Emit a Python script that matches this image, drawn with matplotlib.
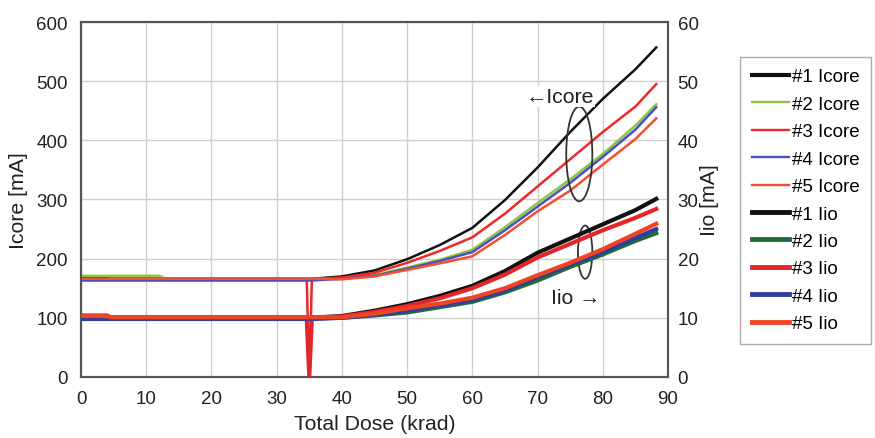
import matplotlib
matplotlib.use("Agg")
import matplotlib.pyplot as plt
from matplotlib.patches import Ellipse
from matplotlib.lines import Line2D

plt.rcParams['font.family'] = ['Liberation Sans', 'DejaVu Sans']

# ---- data ----
dose = [0, 4, 4.5, 12, 13, 20, 30, 34.6, 35.0, 35.4, 40, 45, 50, 55, 60, 65, 70, 75, 80, 85, 88.2]

icore_1 = [167, 167, 166, 166, 166, 166, 166, 166, 166, 166, 170, 180, 199, 223, 252, 299, 354, 414, 470, 520, 557]
icore_2 = [171, 171, 171, 171, 166, 166, 166, 166, 166, 166, 167, 172, 185, 198, 215, 253, 294, 334, 377, 425, 461]
icore_3 = [166, 166, 166, 166, 166, 166, 166, 166, 0, 166, 168, 176, 193, 213, 236, 276, 322, 368, 414, 457, 495]
icore_4 = [163, 163, 163, 163, 163, 163, 163, 163, 163, 163, 166, 171, 183, 196, 211, 248, 288, 328, 372, 418, 456]
icore_5 = [166, 166, 166, 166, 166, 166, 166, 166, 166, 166, 165, 170, 181, 192, 204, 240, 280, 315, 359, 402, 437]

iio_1 = [10.0, 10.0, 10.0, 10.0, 10.0, 10.0, 10.0, 10.0, 10.0, 10.0, 10.3, 11.2, 12.3, 13.7, 15.4, 17.9, 21.0, 23.4, 25.8, 28.2, 30.1]
iio_2 = [9.9, 9.9, 9.9, 9.9, 9.9, 9.9, 9.9, 9.9, 9.9, 9.9, 10.0, 10.4, 10.9, 11.8, 12.7, 14.3, 16.3, 18.6, 20.7, 23.0, 24.3]
iio_3 = [10.4, 10.4, 10.1, 10.1, 10.1, 10.1, 10.1, 10.1, 0, 10.1, 10.2, 11.0, 12.0, 13.3, 15.0, 17.3, 20.2, 22.5, 24.8, 26.9, 28.4]
iio_4 = [9.8, 9.8, 9.8, 9.8, 9.8, 9.8, 9.8, 9.8, 9.8, 9.8, 10.0, 10.5, 11.2, 12.1, 13.0, 14.6, 16.9, 19.0, 21.1, 23.5, 25.0]
iio_5 = [10.3, 10.3, 10.1, 10.1, 10.1, 10.1, 10.1, 10.1, 10.1, 10.1, 10.1, 10.7, 11.6, 12.4, 13.4, 15.0, 17.2, 19.3, 21.6, 24.2, 25.9]

x_ticks = [0, 10, 20, 30, 40, 50, 60, 70, 80, 90]
left_ticks = [0, 100, 200, 300, 400, 500, 600]
right_ticks = [0, 10, 20, 30, 40, 50, 60]

icore_labels = ["#1 Icore", "#2 Icore", "#3 Icore", "#4 Icore", "#5 Icore"]
iio_labels = ["#1 Iio", "#2 Iio", "#3 Iio", "#4 Iio", "#5 Iio"]

icore_colors = ["#111111", "#8dc63f", "#ec2a2a", "#4b4fc4", "#f2502f"]
iio_colors = ["#111111", "#1f6b3a", "#e3262a", "#2f3d9e", "#ee4423"]

# ---- figure ----
fig = plt.figure(figsize=(8.75, 4.39), dpi=100)
ax = fig.add_axes([0.0926, 0.139, 0.6708, 0.8086])
ax2 = ax.twinx()

FS = 13.5
LFS = 15.3
grid_c = "#cfcfcf"
frame_c = "#555555"
txt_c = "#222222"

ax.set_xlim(0, 90)
ax.set_ylim(0, 600)
ax2.set_ylim(0, 60)
ax.set_xticks(x_ticks)
ax.set_yticks(left_ticks)
ax2.set_yticks(right_ticks)
ax.grid(True, color=grid_c, linewidth=1.0)
ax.set_axisbelow(True)

for a in (ax, ax2):
    for s in a.spines.values():
        s.set_color(frame_c)
        s.set_linewidth(1.5)
ax.tick_params(axis='both', length=0, labelsize=FS, pad=9.5, colors=txt_c)
ax2.tick_params(axis='y', length=0, labelsize=FS, pad=7, colors=txt_c)

ax.set_xlabel("Total Dose (krad)", fontsize=LFS, color=txt_c, labelpad=5)
ax.set_ylabel("Icore [mA]", fontsize=LFS, color=txt_c, labelpad=6)
ax2.set_ylabel("Iio [mA]", fontsize=LFS, color=txt_c, labelpad=1)

icore = [icore_1, icore_2, icore_3, icore_4, icore_5]
iio = [iio_1, iio_2, iio_3, iio_4, iio_5]
order = [0, 1, 3, 4, 2]

for i in order:
    ax.plot(dose, icore[i], color=icore_colors[i], linewidth=1.8, zorder=3 + i * 0.1)
for i in order:
    ax2.plot(dose, iio[i], color=iio_colors[i], linewidth=3.0, zorder=3 + i * 0.1)

handles = []
for i in range(5):
    handles.append(Line2D([], [], color=icore_colors[i], linewidth=3.0 if i == 0 else 1.7, label=icore_labels[i]))
for i in range(5):
    handles.append(Line2D([], [], color=iio_colors[i], linewidth=3.5, label=iio_labels[i]))

# annotations
ax.add_patch(Ellipse((76.4, 377), 4.0, 160, angle=0, fill=False, edgecolor="#333333", linewidth=1.3, zorder=6))
ax.add_patch(Ellipse((77.3, 211), 2.2, 90, angle=0, fill=False, edgecolor="#333333", linewidth=1.3, zorder=6))
ax.text(68.2, 474, "\u2190Icore", fontsize=LFS, ha='left', va='center', color=txt_c, zorder=7,
        bbox=dict(facecolor='white', edgecolor='none', pad=0.5))
ax.text(72.0, 135, "Iio \u2192", fontsize=LFS, ha='left', va='center', color=txt_c, zorder=7)

leg = fig.legend(handles=handles, loc='upper left', bbox_to_anchor=(0.846, 0.868),
                 fontsize=FS, frameon=True, fancybox=False, handlelength=2.0,
                 handletextpad=0.15, labelspacing=0.55, borderpad=0.6, borderaxespad=0)
leg.get_frame().set_edgecolor("#999999")
leg.get_frame().set_linewidth(1.0)

fig.savefig("out.png", dpi=100)
